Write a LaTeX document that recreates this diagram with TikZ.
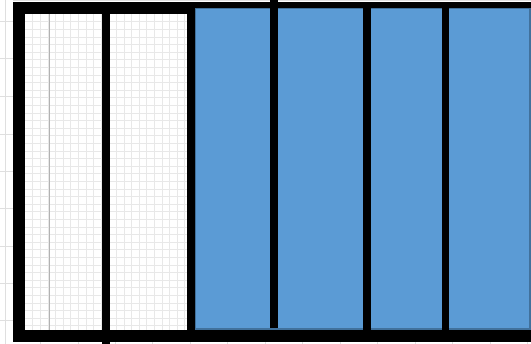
\documentclass[tikz,border=0pt]{standalone}
\usepackage{tikz}
\usetikzlibrary{positioning}
\definecolor{cellblue}{HTML}{5B9BD5}
\definecolor{celledge}{HTML}{41719C}

\begin{document}
\begin{tikzpicture}[
  x=1pt, y=-1pt,
  sheet/.style={draw=gray!25, line width=0.6pt},
  minor/.style={draw=gray!18, line width=0.5pt},
  ink/.style={fill=black},
  cell/.style={fill=cellblue, draw=celledge, line width=1.2pt},
]
  \useasboundingbox (0,0) rectangle (531,344);
  % spreadsheet lines outside the frame
  \foreach \y in {21,58,96,134,171,208,246,283,320} \draw[sheet] (0,\y) -- (13,\y);
  \draw[sheet] (5,0) -- (5,344);
  \foreach \x in {40,78,115,152,190,227,265,302,340,377,415,452,490,527} \draw[sheet] (\x,341) -- (\x,344);
  \draw[sheet] (13,0.5) -- (531,0.5);
  % fine grid in the white panel
  \foreach \x in {32.6,40.2,...,188} \draw[minor] (\x,14) -- (\x,330);
  \foreach \y in {21.6,29.2,...,330} \draw[minor] (25,\y) -- (188,\y);
  \draw[gray!60, line width=0.7pt] (49,14) -- (49,330);
  % blue panel
  \path[cell] (195,8.5) rectangle (530,329);
  % frame and bars
  \fill[ink] (13,2) rectangle (531,8);
  \fill[ink] (13,2) rectangle (194,14);
  \fill[ink] (13,2) rectangle (25,342);
  \fill[ink] (13,330) rectangle (531,342);
  \fill[ink] (187,2) rectangle (195,342);
  \fill[ink] (102,14) rectangle (110,344);
  \fill[ink] (270,0) rectangle (278,328);
  \fill[ink] (363,8) rectangle (371,342);
  \fill[ink] (442,8) rectangle (449,342);
\end{tikzpicture}
\end{document}
